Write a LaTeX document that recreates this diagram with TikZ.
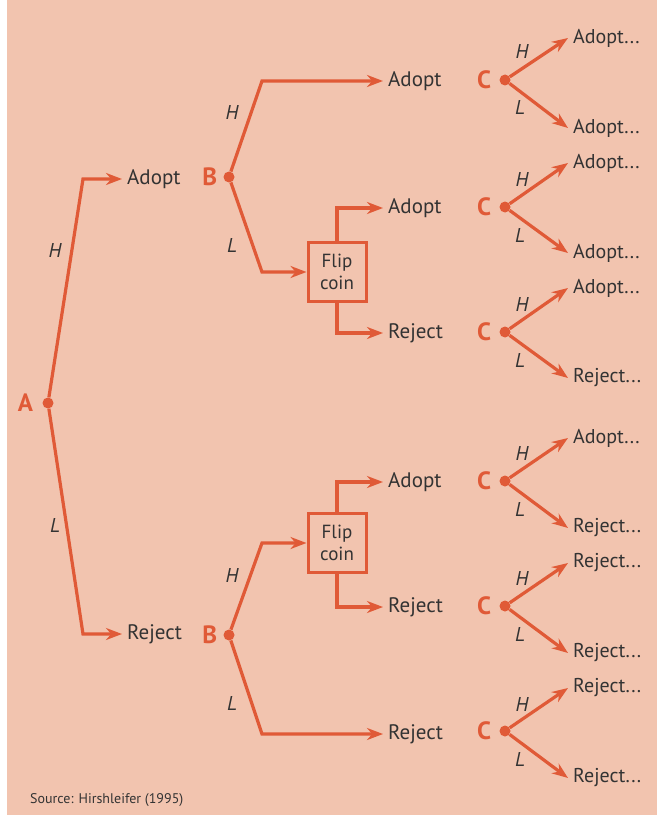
\documentclass[tikz,border=0pt]{standalone}
\usepackage{fontspec}
\setmainfont{PT Sans}
\usepackage{xcolor}
\usepackage{tikz}
\usetikzlibrary{arrows.meta,positioning}

\definecolor{panel}{HTML}{F2C4AF}
\definecolor{branch}{HTML}{E05A37}
\definecolor{ink}{HTML}{333333}

\begin{document}
\begin{tikzpicture}[
    x=1pt, y=-1pt,
    dot/.style={circle, fill=branch, inner sep=0pt, minimum size=11pt},
    player/.style={font=\fontsize{25}{25}\selectfont\bfseries, text=branch, inner sep=0pt},
    choice/.style={anchor=west, font=\fontsize{21}{24}\selectfont, text=ink, inner sep=5pt},
    leaf/.style={anchor=west, font=\fontsize{20}{22}\selectfont, text=ink, inner sep=5pt},
    move/.style={font=\fontsize{20}{24}\selectfont\itshape, text=ink, inner sep=0pt},
    coin/.style={draw=branch, line width=3pt, minimum width=58pt, minimum height=59pt,
                 align=center, font=\fontsize{19}{22}\selectfont, text=ink, inner sep=2pt},
    arrow/.style={-{Stealth[length=16pt,width=12pt]}, line width=3.2pt, draw=branch},
]
\useasboundingbox (0,0) rectangle (660,821);
\fill[panel] (7,0) rectangle (657,815);

% Player A
\node[dot] (A) at (48,403) {};
\node[player, left=9pt of A] {A};
\coordinate (aH) at (83,179);
\coordinate (aL) at (83,634);
\node[choice] (adoptA) at (122,179) {Adopt};
\node[choice] (rejectA) at (122,634) {Reject};
\draw[arrow] (A) -- (aH) -- (adoptA.west);
\draw[arrow] (A) -- (aL) -- (rejectA.west);
\node[move] at (55,250) {H};
\node[move] at (55,525) {L};

% Player B after Adopt
\node[dot] (B1) at (229,177) {};
\node[player, left=6pt of B1] {B};
\coordinate (b1H) at (262,81);
\coordinate (b1L) at (262,272);
\node[choice] (adoptB1) at (383,81) {Adopt};
\node[coin] (flip1) at (337,272) {Flip\\coin};
\node[choice] (adoptF1) at (383,208) {Adopt};
\node[choice] (rejectF1) at (383,333) {Reject};
\draw[arrow] (B1) -- (b1H) -- (adoptB1.west);
\draw[arrow] (B1) -- (b1L) -- (flip1.west);
\draw[arrow] (flip1.north) |- (adoptF1.west);
\draw[arrow] (flip1.south) |- (rejectF1.west);
\node[move] at (232,113) {H};
\node[move] at (232,245) {L};

% Player B after Reject
\node[dot] (B2) at (229,635) {};
\node[player, left=6pt of B2] {B};
\coordinate (b2H) at (262,543);
\coordinate (b2L) at (262,734);
\node[coin] (flip2) at (337,543) {Flip\\coin};
\node[choice] (adoptF2) at (383,482) {Adopt};
\node[choice] (rejectF2) at (383,607) {Reject};
\node[choice] (rejectB2) at (383,734) {Reject};
\draw[arrow] (B2) -- (b2H) -- (flip2.west);
\draw[arrow] (B2) -- (b2L) -- (rejectB2.west);
\draw[arrow] (flip2.north) |- (adoptF2.west);
\draw[arrow] (flip2.south) |- (rejectF2.west);
\node[move] at (232,575) {H};
\node[move] at (232,703) {L};

% Player C
\node[dot] (C1) at (505,80) {};
\node[player, left=8pt of C1] {C};
\node[leaf] (c1H) at (568,38) {Adopt...};
\node[leaf] (c1L) at (568,128) {Adopt...};
\draw[arrow] (C1) -- (c1H.west);
\draw[arrow] (C1) -- (c1L.west);
\node[move] at (522,52) {H};
\node[move] at (520,108) {L};

\node[dot] (C2) at (505,207) {};
\node[player, left=8pt of C2] {C};
\node[leaf] (c2H) at (568,163) {Adopt...};
\node[leaf] (c2L) at (568,253) {Adopt...};
\draw[arrow] (C2) -- (c2H.west);
\draw[arrow] (C2) -- (c2L.west);
\node[move] at (522,179) {H};
\node[move] at (520,235) {L};

\node[dot] (C3) at (505,332) {};
\node[player, left=8pt of C3] {C};
\node[leaf] (c3H) at (568,288) {Adopt...};
\node[leaf] (c3L) at (568,378) {Reject...};
\draw[arrow] (C3) -- (c3H.west);
\draw[arrow] (C3) -- (c3L.west);
\node[move] at (522,304) {H};
\node[move] at (520,360) {L};

\node[dot] (C4) at (505,481) {};
\node[player, left=8pt of C4] {C};
\node[leaf] (c4H) at (568,438) {Adopt...};
\node[leaf] (c4L) at (568,528) {Reject...};
\draw[arrow] (C4) -- (c4H.west);
\draw[arrow] (C4) -- (c4L.west);
\node[move] at (522,453) {H};
\node[move] at (520,509) {L};

\node[dot] (C5) at (505,606) {};
\node[player, left=8pt of C5] {C};
\node[leaf] (c5H) at (568,563) {Reject...};
\node[leaf] (c5L) at (568,653) {Reject...};
\draw[arrow] (C5) -- (c5H.west);
\draw[arrow] (C5) -- (c5L.west);
\node[move] at (522,578) {H};
\node[move] at (520,634) {L};

\node[dot] (C6) at (505,731) {};
\node[player, left=8pt of C6] {C};
\node[leaf] (c6H) at (568,688) {Reject...};
\node[leaf] (c6L) at (568,778) {Reject...};
\draw[arrow] (C6) -- (c6H.west);
\draw[arrow] (C6) -- (c6L.west);
\node[move] at (522,704) {H};
\node[move] at (520,759) {L};

% Source
\node[anchor=west, font=\fontsize{14}{16}\selectfont, text=ink, inner sep=0pt] (source) at (30,800) {Source: Hirshleifer (1995)};
\end{tikzpicture}
\end{document}
